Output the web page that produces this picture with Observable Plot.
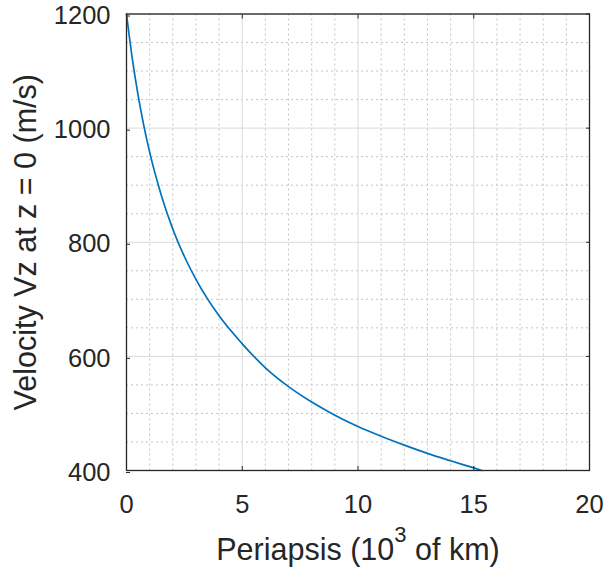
<!DOCTYPE html>
<html><head><meta charset="utf-8">
<script src="https://cdn.jsdelivr.net/npm/d3@7"></script>
<script src="https://cdn.jsdelivr.net/npm/@observablehq/plot@0.6"></script>
<style>
html,body{margin:0;padding:0;background:#fff;}
#chart svg{display:block;}
</style>
</head><body><div id="chart"></div>
<script>
// Periapsis (10^3 km) and velocity Vz at z = 0 (m/s)
const periapsis = [0, 0.25, 0.5, 0.75, 1, 1.5, 2, 2.5, 3, 4, 5, 6, 7, 8, 9, 10, 11, 12, 13, 14, 15, 15.35];
const velocity  = [1200, 1122, 1058, 1004, 958, 883, 823, 775, 735, 671, 622, 580, 547, 520, 497, 477, 460, 444.5, 430, 417, 404.5, 400];

const xTicks = [0, 5, 10, 15, 20];
const yTicks = [400, 600, 800, 1000, 1200];
const xMinor = [1, 2, 3, 4, 6, 7, 8, 9, 11, 12, 13, 14, 16, 17, 18, 19];
const yMinor = [450, 500, 550, 650, 700, 750, 850, 900, 950, 1050, 1100, 1150];

const xLabel = "Periapsis (10³ of km)";
const yLabel = "Velocity Vz at z = 0 (m/s)";

const data = periapsis.map((x, i) => ({x, v: velocity[i]}));
const ink = "#262626";

const chart = Plot.plot({
  width: 607,
  height: 576,
  marginLeft: 126,
  marginRight: 18,
  marginTop: 13.5,
  marginBottom: 106,
  style: {fontFamily: "'Liberation Sans', Arial, Helvetica, sans-serif", fontSize: "25px", color: ink, background: "white"},
  x: {domain: [0, 20]},
  y: {domain: [400, 1200]},
  marks: [
    Plot.ruleX(xMinor, {stroke: "#c4c4c4", strokeDasharray: "2,3", strokeWidth: 1}),
    Plot.ruleY(yMinor, {stroke: "#c4c4c4", strokeDasharray: "2,3", strokeWidth: 1}),
    Plot.ruleX(xTicks, {stroke: "#dadada", strokeWidth: 1}),
    Plot.ruleY(yTicks, {stroke: "#dadada", strokeWidth: 1}),
    Plot.line(data, {x: "x", y: "v", stroke: "#0072BD", strokeWidth: 1.7, curve: "monotone-x"}),
    Plot.frame({stroke: ink, strokeWidth: 1.3}),
    Plot.axisX(xTicks, {anchor: "bottom", tickSize: -4, tickPadding: 28, tickFormat: d => String(d), label: null, fontSize: 25.5, stroke: ink, fill: ink}),
    Plot.axisX(xTicks, {anchor: "top", tickSize: -4, tickFormat: () => "", label: null, stroke: ink}),
    Plot.axisY(yTicks, {anchor: "left", tickSize: -4, tickPadding: 20, dy: 2, tickFormat: d => String(d), label: null, fontSize: 25.5, stroke: ink, fill: ink}),
    Plot.axisY(yTicks, {anchor: "right", tickSize: -4, tickFormat: () => "", label: null, stroke: ink}),
    Plot.text([xLabel], {text: d => d, frameAnchor: "bottom", textAnchor: "middle", lineAnchor: "middle", dy: 80, fontSize: 30.5, fill: ink}),
    Plot.text([yLabel], {text: d => d, frameAnchor: "left", textAnchor: "middle", lineAnchor: "middle", rotate: -90, dx: -100, fontSize: 30.5, fill: ink})
  ]
});

document.getElementById("chart").appendChild(chart);

// Render the "3" of 10³ as a true superscript
d3.select(chart).selectAll("text").each(function() {
  if (this.textContent === xLabel) {
    const t = d3.select(this);
    t.text(null);
    const parts = xLabel.split("³");
    t.append("tspan").text(parts[0]);
    t.append("tspan").attr("dy", "-18px").attr("font-size", "22px").text("3");
    t.append("tspan").attr("dy", "18px").text(parts[1]);
  }
});
</script>
</body></html>
